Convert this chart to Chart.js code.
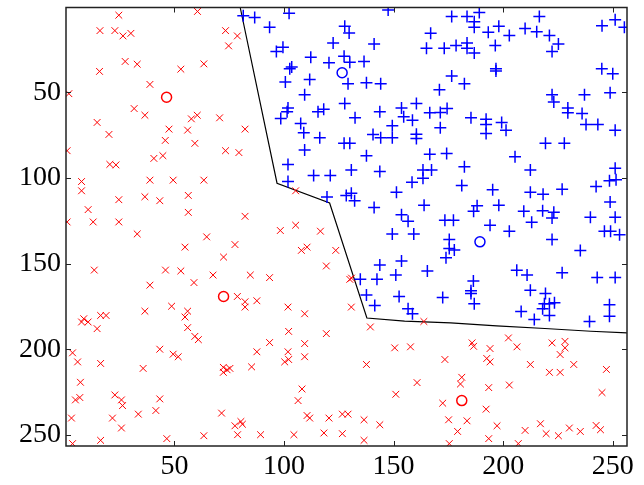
<!DOCTYPE html>
<html>
<head>
<meta charset="utf-8">
<script src="https://cdn.jsdelivr.net/npm/chart.js@4/dist/chart.umd.min.js"></script>
<style>
  html, body { margin: 0; padding: 0; background: #fff; }
  canvas { display: block; }
</style>
</head>
<body>
<canvas id="grafica" width="644" height="485"></canvas>
<script>
// class 1 samples (red x), [column, row]
const claseRoja = [
  [24.6,5.0],[60.5,2.8],[16.0,14.0],[22.8,14.0],[26.5,17.1],[30.1,15.6],[73.3,14.0],[78.7,17.1],[74.7,22.9],
  [27.5,32.0],[33.0,33.6],[15.8,37.8],[52.9,36.5],[63.4,33.4],[38.8,45.4],[1.8,50.8],[31.6,59.5],[36.5,63.4],
  [14.7,67.6],[20.1,74.6],[57.7,65.5],[60.4,63.4],[70.6,64.9],[47.5,71.5],[56.0,72.1],[82.2,71.5],[45.8,78.1],
  [59.3,79.8],[1.0,84.1],[73.3,84.1],[79.4,85.2],
  [40.6,88.6],[44.7,87.0],[20.5,92.1],[23.3,92.4],[7.6,102.1],[7.6,107.5],[38.8,101.3],[49.4,101.3],[63.4,101.3],
  [24.6,112.7],[36.5,111.0],[43.3,113.3],[56.3,110.2],[56.3,120.1],[10.6,118.5],[1.0,125.7],[12.9,125.7],[24.6,125.7],
  [82.2,122.4],[33.0,132.7],[64.7,134.4],[77.6,138.9],[54.8,140.4],[72.4,146.2],[13.4,153.8],[45.9,153.8],[52.9,154.3],
  [67.6,156.7],[84.6,156.7],[58.9,161.1],[38.8,162.6],[78.7,169.2],[82.2,172.3],
  [105.3,107.5],[98.3,130.7],[105.3,127.6],[116.6,131.1],[107.9,142.3],[110.5,140.4],[123.6,142.3],[119.3,151.4],
  [93.4,158.2],[130.0,159.2],[130.8,158.5],[87.6,171.7],
  [48.7,174.9],[82.2,175.4],[36.5,177.8],[56.0,177.8],[54.8,181.2],[8.6,182.2],[7.6,184.1],[10.6,184.1],[16.3,180.3],
  [18.8,180.3],[14.7,188.0],[56.0,187.4],[59.3,192.5],[60.9,194.4],[3.5,202.1],[5.8,207.4],[16.3,208.3],[43.3,200.0],
  [49.4,202.9],[51.7,204.4],[35.7,211.2],[72.3,210.6],[75.3,211.2],[72.3,213.5],[74.0,212.0],[85.2,210.3],[7.1,219.3],
  [4.8,229.6],[6.8,228.2],[22.8,226.7],[25.8,229.6],[26.3,232.9],[43.3,229.0],[41.5,235.8],[33.5,237.9],[3.0,240.2],
  [21.7,240.2],[25.8,246.0],[71.5,237.3],[77.6,244.7],[80.3,242.2],[81.0,243.8],[78.8,249.9],[63.4,250.5],[16.3,253.2],
  [46.5,252.2],[3.5,255.1],
  [101.8,175.4],[109.4,179.3],[130.7,175.4],[163.8,183.8],[139.4,187.0],[102.1,189.6],[119.3,190.9],[93.4,196.1],
  [87.6,201.5],[101.8,201.5],[109.4,196.7],[109.4,204.4],[100.3,207.4],[102.1,206.0],[150.5,199.2],[157.7,198.6],
  [137.6,208.9],[160.7,219.5],[151.0,226.3],[108.2,223.2],[106.4,230.0],[110.5,238.7],[111.7,240.2],[120.5,240.2],
  [126.6,237.9],[129.2,237.9],[136.5,241.2],[143.7,244.1],[89.3,249.9],[104.5,249.9],[118.2,248.9],[126.6,249.3],
  [136.5,253.2],
  [185.8,196.3],[186.5,198.3],[194.0,199.6],[202.4,193.4],[206.3,198.6],[222.3,196.3],[228.2,195.4],[228.2,199.2],
  [226.0,203.1],[173.4,206.0],[192.5,205.4],[194.0,207.4],[212.4,208.9],[232.2,208.9],[221.1,213.5],[226.0,213.5],
  [247.1,211.8],[181.1,216.4],[180.5,220.3],[193.4,222.4],[202.8,220.9],[245.1,225.3],[172.4,231.5],[192.2,235.0],
  [175.1,241.2],[183.5,241.8],[179.2,248.0],[197.2,244.7],[210.0,247.4],[217.0,243.5],[219.6,249.3],[225.2,250.5],
  [230.2,246.0],[235.2,248.0],[242.4,244.5],[244.4,247.0],[193.4,252.2],[175.4,255.1],[206.9,255.1]
];

// class 2 samples (blue +)
const claseAzul = [
  [81.4,5.3],
  [102.3,3.8],[86.6,6.3],[147.5,1.9],[93.4,12.1],[127.7,11.5],[129.7,15.4],[166.9,15.6],[122.4,21.2],[141.1,21.8],
  [165.0,24.3],[96.5,26.2],[99.5,23.7],[112.2,29.5],[120.5,32.8],[127.4,28.9],[130.0,32.4],[136.5,32.0],[102.6,36.3],
  [103.5,35.3],[100.6,44.0],[111.7,42.5],[129.2,45.0],[137.6,44.4],[144.1,45.0],[109.4,51.4],[127.7,56.6],[101.8,59.1],
  [101.4,61.4],[98.5,65.3],[115.5,61.4],[118.1,59.9],[132.4,64.9],[143.7,61.4],[153.6,59.1],[160.4,56.6],[166.5,62.0],
  [154.6,64.3],[158.6,66.3],[107.6,68.2],[109.0,73.6],[116.3,76.5],[127.4,79.8],[130.0,79.8],[140.6,74.6],[144.1,76.5],
  [149.4,76.5],[149.4,69.6],[160.4,74.5],[160.4,77.0],[109.4,83.7],
  [176.5,5.7],[183.5,5.7],[189.1,3.4],[186.8,8.8],[186.8,12.1],[216.5,5.7],[251.1,7.7],[245.1,11.1],[255.3,12.1],
  [193.2,15.0],[198.0,11.5],[202.8,16.9],[210.0,12.7],[215.3,14.6],[221.1,16.9],[225.2,21.8],[222.3,26.2],[173.1,24.3],
  [178.5,22.7],[183.5,21.2],[183.5,24.3],[186.8,27.0],[196.4,22.7],[196.7,36.3],[196.7,37.6],[245.0,36.3],[250.0,39.2],
  [176.5,40.5],[182.3,45.0],[170.9,48.5],[222.3,51.4],[223.1,55.6],[237.1,51.4],[248.8,50.2],[174.4,59.5],[171.3,61.8],
  [185.3,64.9],[192.2,65.7],[192.2,68.8],[192.2,74.0],[199.3,67.6],[201.3,72.1],[229.5,59.1],[229.5,62.0],[236.0,62.4],
  [237.8,68.8],[243.2,68.8],[251.1,72.1],[171.3,70.7],[219.3,79.8],[227.9,79.8],
  [137.6,87.0],[166.5,86.2],[101.8,92.1],[101.8,102.1],[113.5,98.6],[121.1,98.6],[130.7,95.3],[143.7,96.3],[163.4,95.3],
  [167.3,95.3],[163.4,100.2],[158.4,102.5],[119.6,111.2],[128.4,110.2],[130.7,108.9],[132.2,113.3],[151.3,108.3],
  [141.1,117.2],[163.9,116.0],[153.6,121.5],[156.6,125.3],[149.4,132.7],[159.2,132.7],[143.7,150.9],[153.6,148.5],
  [165.4,154.3],[151.0,156.7],[134.8,159.2],[142.4,159.2],[137.6,168.4],[152.5,169.2],
  [174.2,85.7],[205.4,87.6],[182.3,93.4],[212.4,95.3],[251.1,94.4],[248.5,101.7],[251.5,101.1],[181.1,104.4],[195.2,106.9],
  [212.4,108.3],[218.2,109.5],[226.9,106.6],[242.4,105.0],[248.8,114.1],[188.1,116.2],[186.5,119.5],[198.0,116.0],
  [209.4,119.5],[218.0,119.1],[223.1,120.1],[222.3,123.4],[213.0,125.9],[194.0,127.6],[202.8,131.1],[173.4,124.7],
  [177.3,124.7],[239.8,123.0],[251.1,123.0],[246.2,131.1],[249.0,131.1],[253.1,133.1],[175.4,136.0],[175.4,141.2],
  [177.7,142.1],[173.9,146.6],[222.3,136.0],[235.2,142.3],[206.2,153.9],[210.9,156.7],[226.9,155.3],[242.9,158.2],
  [251.1,158.2],[186.4,160.1],[185.3,165.9],[185.3,167.5],[172.4,169.8],[212.4,165.5],[219.3,167.5],
  [141.4,174.5],[156.6,176.4],[158.6,179.3],
  [186.8,173.5],[208.2,178.0],[214.2,182.6],[218.8,173.5],[221.1,173.5],[223.4,172.9],[218.0,176.4],[221.1,180.3],
  [239.4,183.8],[248.5,174.1],[248.5,180.7]
];

// cluster centres (circles)
const centrosRojos = [[46.4,52.9],[72.4,169.2],[181.1,230.0]];
const centrosAzules = [[126.5,38.6],[189.4,137.3]];

// decision boundary
const frontera = [
  [80.0,0.5],[96.8,103.1],[120.8,114.6],[137.8,181.8],[155.0,183.6],[176.0,184.6],
  [197.0,186.4],[219.0,187.9],[240.0,189.5],[256.5,190.5]
];

const marcas = [50, 100, 150, 200, 250];

const aPuntos = arr => arr.map(p => ({ x: p[0], y: p[1] }));

// ticks pointing inward on all four sides, plus the box
const cajaTicks = {
  id: 'cajaTicks',
  afterDraw(chart) {
    const { ctx, chartArea: a, scales } = chart;
    const sx = scales.x, sy = scales.y;
    ctx.save();
    ctx.strokeStyle = '#222';
    ctx.lineWidth = 1;
    ctx.beginPath();
    sx.ticks.forEach(t => {
      const px = Math.round(sx.getPixelForValue(t.value)) + 0.5;
      ctx.moveTo(px, a.bottom); ctx.lineTo(px, a.bottom - 5);
      ctx.moveTo(px, a.top); ctx.lineTo(px, a.top + 5);
    });
    sy.ticks.forEach(t => {
      const py = Math.round(sy.getPixelForValue(t.value)) + 0.5;
      ctx.moveTo(a.left, py); ctx.lineTo(a.left + 5, py);
      ctx.moveTo(a.right, py); ctx.lineTo(a.right - 5, py);
    });
    ctx.stroke();
    ctx.lineWidth = 1.5;
    ctx.strokeRect(a.left, a.top, a.right - a.left, a.bottom - a.top);
    ctx.restore();
  }
};

const fuente = { family: "'Liberation Serif', 'Times New Roman', serif", size: 28 };

const sinRelleno = s => {
  s.paddingTop = 0; s.paddingBottom = 0;
  s.paddingLeft = 0; s.paddingRight = 0;
};

new Chart(document.getElementById('grafica').getContext('2d'), {
  type: 'scatter',
  data: {
    datasets: [
      {
        data: aPuntos(claseRoja),
        pointStyle: 'crossRot',
        pointRadius: 4.8,
        borderColor: 'rgb(255, 0, 0)',
        borderWidth: 1,
        backgroundColor: 'rgb(255, 0, 0)'
      },
      {
        data: aPuntos(claseAzul),
        pointStyle: 'cross',
        pointRadius: 6,
        borderColor: 'rgb(0, 0, 255)',
        borderWidth: 1.5,
        backgroundColor: 'rgb(0, 0, 255)'
      },
      {
        type: 'line',
        data: aPuntos(frontera),
        borderColor: '#000',
        borderWidth: 1.2,
        pointRadius: 0,
        fill: false,
        tension: 0
      },
      {
        data: aPuntos(centrosRojos),
        pointStyle: 'circle',
        pointRadius: 5,
        borderColor: 'rgb(255, 0, 0)',
        borderWidth: 1.5,
        backgroundColor: 'rgba(0, 0, 0, 0)'
      },
      {
        data: aPuntos(centrosAzules),
        pointStyle: 'circle',
        pointRadius: 5,
        borderColor: 'rgb(0, 0, 255)',
        borderWidth: 1.5,
        backgroundColor: 'rgba(0, 0, 0, 0)'
      }
    ]
  },
  options: {
    responsive: false,
    animation: false,
    devicePixelRatio: 1,
    layout: { padding: { top: 5, right: 17, bottom: 0, left: 0 } },
    scales: {
      x: {
        type: 'linear',
        min: 0.5,
        max: 256.5,
        afterBuildTicks: s => { s.ticks = marcas.map(v => ({ value: v })); },
        afterFit: s => { s.height = 39; sinRelleno(s); },
        grid: { display: false, drawTicks: false },
        border: { display: false },
        ticks: { font: fuente, color: '#000', padding: 4, maxRotation: 0, autoSkip: false }
      },
      y: {
        type: 'linear',
        reverse: true,
        min: 0.5,
        max: 256.5,
        afterBuildTicks: s => { s.ticks = marcas.map(v => ({ value: v })); },
        afterFit: s => { s.width = 66; sinRelleno(s); },
        grid: { display: false, drawTicks: false },
        border: { display: false },
        ticks: { font: fuente, color: '#000', padding: 5, autoSkip: false }
      }
    },
    plugins: {
      legend: { display: false },
      tooltip: { enabled: false }
    }
  },
  plugins: [cajaTicks]
});
</script>
</body>
</html>
